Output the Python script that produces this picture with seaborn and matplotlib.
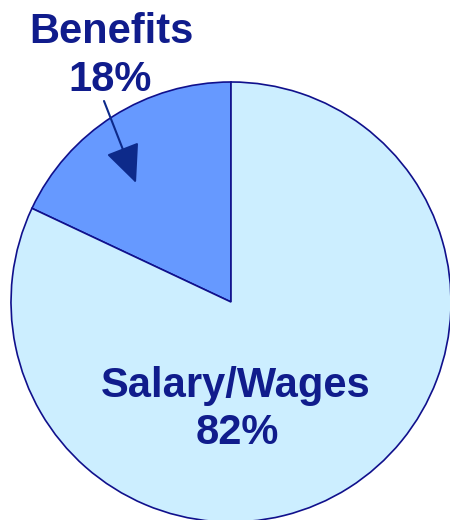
import matplotlib
matplotlib.use("Agg")
import matplotlib.pyplot as plt
import seaborn as sns

# Pie data
labels = ["Benefits", "Salary/Wages"]
shares = [18, 82]
colors = ["#6699ff", "#cceeff"]

sns.set_theme(style="white")
plt.rcParams["font.family"] = ["Liberation Sans", "DejaVu Sans"]

navy = "#101c8c"

fig = plt.figure(figsize=(4.5, 5.2), dpi=100)
ax = fig.add_axes([0, 0, 1, 1])

# pie radius 220 px, centre at pixel (231, 302)
ax.pie(shares, colors=colors, startangle=90, counterclock=True, radius=1.0,
       wedgeprops=dict(edgecolor="#10108c", linewidth=1.2))

def px(x, y):
    return ((x - 231) / 220, (302 - y) / 220)

ax.set_xlim(px(0, 0)[0], px(450, 0)[0])
ax.set_ylim(px(0, 520)[1], px(0, 0)[1])
ax.set_aspect("equal")
ax.axis("off")

ax.text(*px(111, 43), labels[0], ha="center", va="baseline",
        fontsize=30, fontweight="bold", color=navy)
ax.text(*px(110, 91), f"{shares[0]}%", ha="center", va="baseline",
        fontsize=30, fontweight="bold", color=navy)
ax.text(*px(236, 397), labels[1], ha="center", va="baseline",
        fontsize=30, fontweight="bold", color=navy)
ax.text(*px(237, 444), f"{shares[1]}%", ha="center", va="baseline",
        fontsize=30, fontweight="bold", color=navy)

ax.annotate("", xy=px(136, 183), xytext=px(104, 101),
            arrowprops=dict(arrowstyle="-|>,head_length=1.0,head_width=0.45",
                            mutation_scale=24, lw=1.5, color="#0d2a8a",
                            shrinkA=0, shrinkB=0))

fig.savefig("out.png", dpi=100)
